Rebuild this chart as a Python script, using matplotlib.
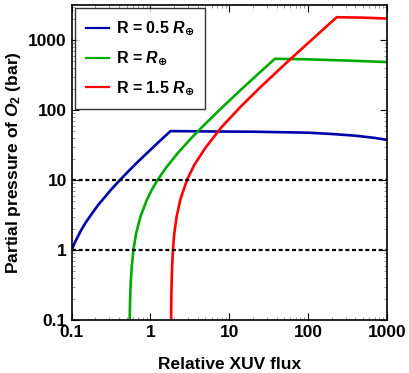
import numpy as np
import matplotlib
matplotlib.use("Agg")
import matplotlib.pyplot as plt
from matplotlib.ticker import LogLocator, NullFormatter, FixedLocator, FixedFormatter

plt.rcParams['font.family'] = ['Liberation Sans', 'DejaVu Sans']
plt.rcParams['font.weight'] = 'bold'
plt.rcParams['mathtext.fontset'] = 'custom'
plt.rcParams['mathtext.rm'] = 'Liberation Sans:bold'
plt.rcParams['mathtext.it'] = 'Liberation Sans:italic:bold'
plt.rcParams['mathtext.bf'] = 'Liberation Sans:bold'
plt.rcParams['mathtext.sf'] = 'DejaVu Sans:bold'

# values (relative XUV flux, O2 pressure in bar)
blue_x = [0.1, 0.11, 0.13, 0.15, 0.18, 0.22, 0.26, 0.32, 0.41, 0.5, 0.65, 0.8, 1.0,
          1.25, 1.5, 1.8, 5, 20, 100, 200, 400, 700, 1000]
blue_y = [1.0, 1.29, 1.87, 2.45, 3.3, 4.5, 5.6, 7.4, 10, 12.6, 17, 21.3, 27,
          34.3, 41.5, 50, 49.5, 49, 47.5, 45.5, 43, 40, 37.5]

green_x = [0.545, 0.55, 0.56, 0.58, 0.61, 0.66, 0.75, 0.9, 1.05, 1.23, 1.6, 2.2, 3.2,
           5, 8, 14, 24, 38, 100, 300, 1000]
green_y = [0.1, 0.17, 0.32, 0.6, 1.04, 1.76, 3.05, 5.2, 7.4, 10, 15.3, 23.9, 38.3,
           64, 107, 194, 338, 540, 530, 510, 485]

red_x = [1.831, 1.835, 1.845, 1.86, 1.89, 1.93, 2.0, 2.15, 2.4, 2.93, 3.6, 5, 8, 14,
         25, 50, 100, 232, 500, 1000]
red_y = [0.1, 0.14, 0.23, 0.37, 0.64, 1.0, 1.66, 3.0, 5.3, 10.2, 16.4, 29, 57, 112,
         213, 443, 903, 2120, 2090, 2030]

thresholds = [1, 10]
labels = [r'R = 0.5 $R_{\mathsf{\oplus}}$', r'R = $R_{\mathsf{\oplus}}$',
          r'R = 1.5 $R_{\mathsf{\oplus}}$']
colors = ['#0000aa', '#00aa00', '#ff0000']

fig = plt.figure(figsize=(4.09, 3.73), dpi=100)
ax = fig.add_axes([0.1753, 0.1421, 0.9455 - 0.1753, 0.9874 - 0.1421])

for xs, ys, c, lab in zip([blue_x, green_x, red_x], [blue_y, green_y, red_y], colors, labels):
    ax.plot(xs, ys, color=c, lw=1.9, label=lab)

for t in thresholds:
    ax.axhline(t, color='black', lw=1.6, linestyle=(0, (1.8, 1.2)))

ax.set_xscale('log')
ax.set_yscale('log')
ax.set_xlim(0.1, 1000)
ax.set_ylim(0.1, 3200)

ax.xaxis.set_major_locator(FixedLocator([0.1, 1, 10, 100, 1000]))
ax.xaxis.set_major_formatter(FixedFormatter(['0.1', '1', '10', '100', '1000']))
ax.yaxis.set_major_locator(FixedLocator([0.1, 1, 10, 100, 1000]))
ax.yaxis.set_major_formatter(FixedFormatter(['0.1', '1', '10', '100', '1000']))
for a in (ax.xaxis, ax.yaxis):
    a.set_minor_locator(LogLocator(base=10, subs=np.arange(2, 10), numticks=20))
    a.set_minor_formatter(NullFormatter())

ax.tick_params(which='both', direction='in', top=True, right=True, labelsize=12.5)
ax.tick_params(which='major', length=5, width=0.8)
ax.tick_params(which='minor', length=2.5, width=0.6, color='#888888')
for s in ax.spines.values():
    s.set_linewidth(1.2)

ax.set_xlabel('Relative XUV flux', fontsize=12.5, fontweight='bold', labelpad=12)
ax.set_ylabel(r'Partial pressure of $O_2$ (bar)', fontsize=12.5, fontweight='bold', labelpad=4)

leg = ax.legend(loc='upper left', fontsize=11.5, frameon=True, fancybox=False,
                edgecolor='black', handlelength=1.4, handletextpad=0.45,
                labelspacing=0.68, borderpad=0.7, bbox_to_anchor=(0.0, 1.0),
                borderaxespad=0.22)
leg.get_frame().set_linewidth(1.0)
for line in leg.get_lines():
    line.set_linewidth(1.6)

fig.savefig('out.png', dpi=100)
